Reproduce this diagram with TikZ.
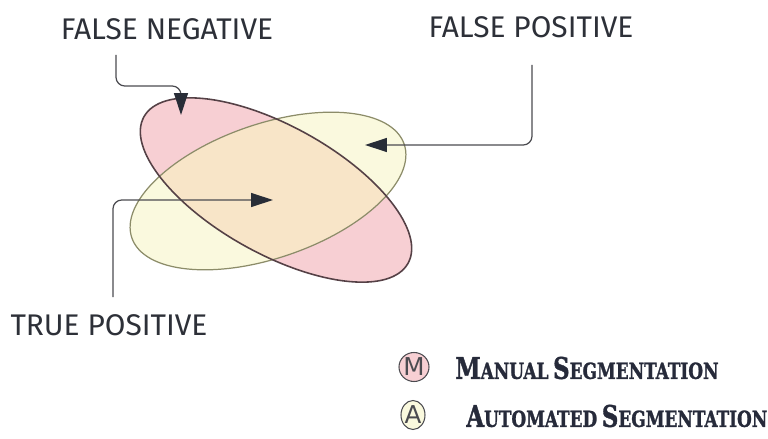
\documentclass[tikz,border=0pt]{standalone}
\usepackage{fontspec}
\usepackage{tikz}
\usepackage{xcolor}
\usetikzlibrary{arrows.meta, shapes.geometric, positioning}
\newfontfamily\lblfont{Fira Sans}
\newfontfamily\legfont{DejaVu Serif Condensed}[FakeStretch=0.85,
  BoldFeatures={FakeBold=1.2}]
\newfontfamily\keyfont{DejaVu Sans}
\definecolor{mpink} {RGB}{247,207,211}
\definecolor{ayel}  {RGB}{250,249,222}
\definecolor{movl}  {RGB}{248,229,200}
\definecolor{mline} {RGB}{ 85, 65, 70}
\definecolor{aline} {RGB}{140,140,105}
\definecolor{gline} {RGB}{ 75, 75, 80}
\definecolor{dhead} {RGB}{ 40, 45, 55}
\definecolor{ltext} {RGB}{ 45, 48, 56}
\definecolor{ntext} {RGB}{ 38, 42, 58}
% fake small caps for the legend
\newcommand\legsc[2]{{\fontsize{17}{18}\selectfont #1}{\fontsize{12.6}{14}\selectfont #2}}
\tikzset{
  % manual segmentation region
  MS/.style={draw=mline,line width=0.9pt},
  % automated segmentation region
  AS/.style={draw=aline,line width=0.7pt},
  % handwritten labels
  LB/.style={font=\lblfont\fontsize{17}{18}\selectfont,text=ltext,inner sep=0pt},
  % legend keys and texts
  KY/.style={ellipse,draw=gline,line width=0.6pt,minimum width=0.48cm,
             minimum height=0.58cm,inner sep=0pt,text=gline,
             font=\keyfont\fontsize{14}{14}\selectfont},
  LG/.style={font=\legfont\bfseries,text=ntext,inner sep=0pt,anchor=west},
  % arrows
  Arr/.style={-{Triangle[length=0.44cm,width=0.28cm,color=dhead]},
              line width=0.7pt,color=gline,rounded corners=5pt},
}
\begin{document}
\begin{tikzpicture}[x=0.02cm,y=-0.02cm]
  \useasboundingbox (0,0) rectangle (768,439);
  % regions
  \fill[mpink] (276,190) circle [x radius=151,y radius=64,rotate=-29];
  \fill[ayel]  (268,191) circle [x radius=144,y radius=67,rotate=19];
  \begin{scope}
    \clip (276,190) circle [x radius=151,y radius=64,rotate=-29];
    \fill[movl] (268,191) circle [x radius=144,y radius=67,rotate=19];
  \end{scope}
  \draw[AS] (268,191) circle [x radius=144,y radius=67,rotate=19];
  \draw[MS] (276,190) circle [x radius=151,y radius=64,rotate=-29];

  % labels
  \node[LB] at (167,29)  (fn) {FALSE NEGATIVE};
  \node[LB] at (531,27)  (fp) {FALSE POSITIVE};
  \node[LB] at (109,325) (tp) {TRUE POSITIVE};

  \coordinate (fnout) at (116,55);
  \coordinate (fpout) at (532,65);
  \coordinate (tpout) at (113,297);
  \coordinate (fnin) at (181,115);
  \coordinate (fpin) at (365,145);
  \coordinate (tpin) at (273,200);
  \draw[Arr] (fnout) -- (116,86) -- (181,86) -- (fnin);
  \draw[Arr] (fpout) -- (532,145) -- (fpin);
  \draw[Arr] (tpout) -- (113,200) -- (tpin);

  % legend
  \node[KY,fill=mpink] at (414,367) (mkey) {M};
  \node[KY,fill=ayel]  at (413,415) (akey) {A};
  \node[LG] at (455,368) (mtxt) {\legsc{M}{ANUAL} \legsc{S}{EGMENTATION}};
  \node[LG] at (466,416) (atxt) {\legsc{A}{UTOMATED} \legsc{S}{EGMENTATION}};
\end{tikzpicture}
\end{document}
